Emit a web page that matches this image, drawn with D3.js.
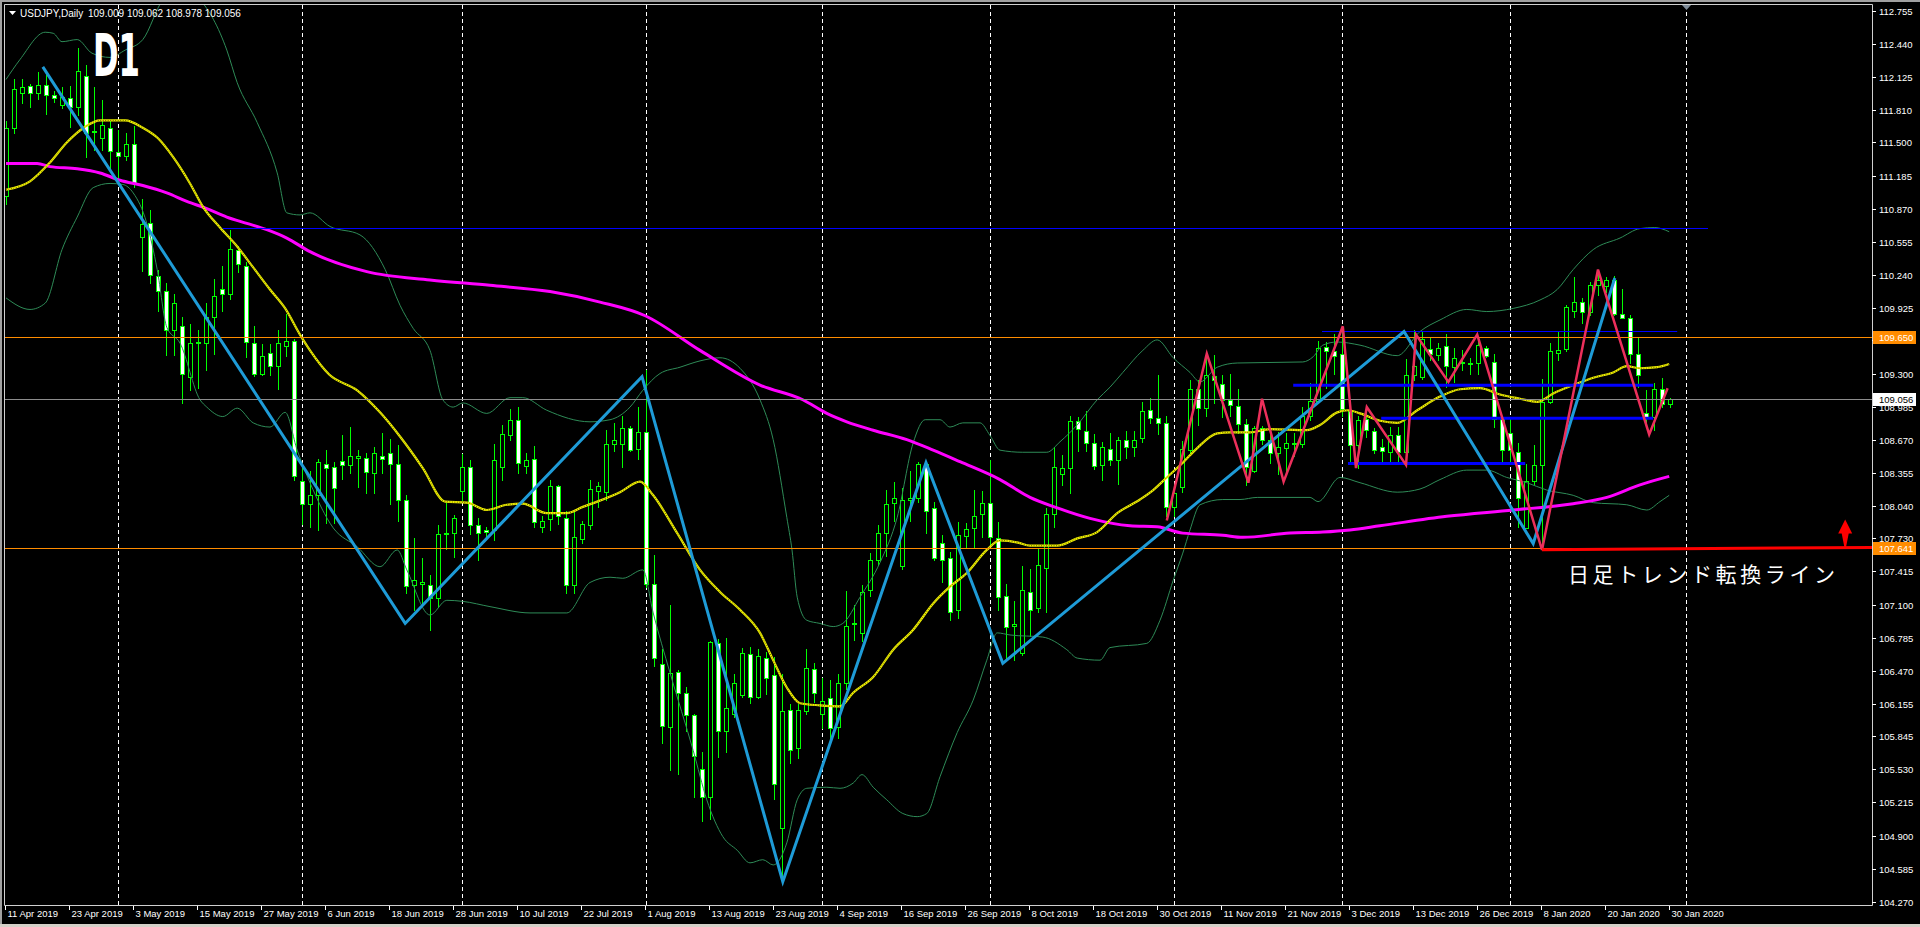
<!DOCTYPE html>
<html><head><meta charset="utf-8">
<script src="https://cdn.jsdelivr.net/npm/d3@7"></script>
<style>html,body{margin:0;padding:0;background:#000;overflow:hidden}</style>
</head><body>
<svg id="c" width="1920" height="927"></svg>
<script>
// ---------------- DATA ----------------
const symbolName = "USDJPY,Daily";
const firstDate = "2019-04-11";
const holidays = ["2019-12-25", "2020-01-01"];

const openP = [
110.99,111.64,111.97,112.04,111.97,112.05,111.95,111.86,111.92,111.84,
112.13,111.60,111.54,111.64,111.41,111.37,111.49,110.60,110.73,110.23,
110.09,109.71,109.75,109.27,109.59,109.59,109.84,110.10,110.06,110.48,
110.32,109.59,109.30,109.50,109.37,109.56,109.61,108.28,108.06,108.14,
108.44,108.41,108.47,108.43,108.50,108.50,108.35,108.51,108.54,108.44,
108.10,107.29,107.30,107.29,107.16,107.77,107.78,108.18,108.41,107.86,
107.81,107.81,108.41,108.71,108.86,108.42,108.49,107.84,107.91,108.23,
107.92,107.29,107.72,107.86,108.18,108.17,108.63,108.63,108.78,108.58,
108.74,107.30,106.53,105.93,106.46,106.26,106.05,105.53,105.27,106.73,
105.90,106.06,106.24,106.63,106.22,106.59,106.43,104.97,106.10,105.73,
106.09,106.49,106.06,106.21,105.93,106.35,106.91,106.83,107.24,107.52,
107.78,108.07,107.47,108.10,108.11,108.44,108.02,107.69,107.54,107.05,
107.75,107.83,107.96,108.07,107.73,107.18,106.90,106.64,107.22,107.07,
107.45,107.96,108.34,108.40,108.85,108.75,108.64,108.43,108.58,108.48,
108.67,108.60,108.69,108.95,108.88,108.83,108.03,108.22,108.57,109.15,
108.97,109.28,109.20,109.05,108.99,108.82,108.37,108.78,108.67,108.54,
108.59,108.63,108.63,108.90,109.04,109.55,109.51,109.49,108.94,108.62,
108.87,108.75,108.60,108.55,108.71,108.55,109.29,109.27,109.53,109.48,
109.56,109.36,109.40,109.40,109.40,109.54,109.41,108.87,108.73,108.55,
107.83,108.28,108.43,109.03,109.50,109.53,109.90,109.98,109.89,110.14,
110.13,110.19,109.87,109.83,109.49,108.92,108.89,109.15,109.009];

const highP = [
111.70,112.10,112.10,112.06,112.17,112.14,111.99,112.03,112.04,112.40,
112.24,112.03,111.90,111.70,111.62,111.59,111.66,110.96,110.86,110.29,
110.16,110.06,109.84,109.77,109.71,109.97,110.20,110.32,110.67,110.51,
110.36,109.75,109.58,109.58,109.71,109.87,109.63,108.43,108.37,108.49,
108.57,108.46,108.71,108.79,108.57,108.54,108.60,108.73,108.68,108.62,
108.14,107.73,107.54,107.38,107.86,108.07,107.95,108.53,108.48,107.92,
107.84,108.63,108.81,108.96,108.98,108.54,108.61,107.94,108.29,108.24,
107.99,107.98,107.90,108.29,108.27,108.76,108.83,108.90,108.80,108.98,
109.33,107.57,106.68,107.10,106.48,106.31,106.06,105.70,106.75,106.77,
106.78,106.44,106.69,106.70,106.68,106.65,106.60,106.44,106.15,106.15,
106.68,106.54,106.40,106.38,106.44,107.23,107.10,107.29,107.59,107.86,
108.19,108.27,108.21,108.37,108.46,108.47,108.08,107.76,107.60,107.89,
107.88,108.19,108.18,108.48,107.89,107.30,107.13,107.47,107.44,107.63,
108.02,108.60,108.52,108.90,108.89,108.94,108.72,108.65,108.73,108.70,
108.75,108.75,109.03,109.07,109.29,108.90,108.22,108.66,109.24,109.24,
109.49,109.48,109.29,109.30,109.15,108.87,108.80,108.80,108.74,108.74,
108.73,108.73,108.98,109.21,109.61,109.60,109.68,109.73,108.97,108.90,
108.96,108.78,108.68,108.79,108.79,109.44,109.71,109.70,109.64,109.59,
109.68,109.54,109.52,109.45,109.66,109.56,109.49,108.89,108.87,108.64,
108.44,108.62,109.25,109.59,109.70,109.95,110.22,110.02,110.17,110.28,
110.22,110.23,110.10,109.86,109.64,109.14,109.21,109.26,109.062];

const lowP = [
110.91,111.59,111.88,111.84,111.91,111.77,111.89,111.83,111.65,111.76,
111.36,111.43,111.43,111.25,111.14,111.33,111.08,110.28,110.16,109.90,
109.48,109.48,109.02,109.14,109.16,109.33,109.49,109.90,110.01,110.27,
109.46,109.28,109.29,109.29,109.15,109.47,108.29,107.87,107.84,107.81,
107.88,107.88,108.30,108.35,108.22,108.16,108.16,108.35,108.06,107.90,
107.21,107.05,107.09,106.86,107.08,107.63,107.55,108.10,107.77,107.52,
107.73,107.71,108.29,108.67,108.35,108.35,107.84,107.79,107.81,107.87,
107.21,107.21,107.69,107.82,108.03,108.10,108.56,108.41,108.56,108.49,
107.27,106.51,105.78,105.52,105.49,105.90,105.27,105.04,105.06,105.65,
105.70,106.03,106.22,106.16,106.21,106.25,105.25,104.44,105.59,105.64,
106.06,106.17,105.92,105.78,105.83,106.30,106.76,106.75,107.18,107.48,
107.56,107.90,107.44,107.90,108.08,107.78,107.52,107.31,106.95,106.97,
107.65,107.65,107.74,107.67,107.05,106.57,106.57,106.62,106.80,107.03,
107.03,107.84,108.24,108.16,108.56,108.56,108.39,108.29,108.43,108.25,
108.50,108.51,108.65,108.83,108.72,107.94,107.94,108.17,108.54,108.81,
108.90,109.02,108.89,108.90,108.73,108.24,108.36,108.63,108.45,108.34,
108.33,108.51,108.60,108.86,109.03,109.16,109.30,108.90,108.44,108.40,
108.70,108.54,108.44,108.46,108.47,108.44,109.24,109.25,109.43,109.43,
109.17,109.22,109.33,109.30,109.30,109.46,108.79,108.47,108.46,107.84,
107.83,108.25,107.65,109.02,109.43,109.51,109.84,109.78,109.86,110.05,
110.08,109.86,109.83,109.40,109.17,108.82,108.76,108.98,108.978];

const closeP = [
111.64,112.01,112.03,111.97,112.05,111.95,111.92,111.93,111.84,112.18,
111.59,111.61,111.67,111.42,111.37,111.49,111.11,110.72,110.24,110.09,
109.71,109.97,109.30,109.59,109.60,109.84,110.04,110.06,110.49,110.34,
109.60,109.30,109.47,109.37,109.59,109.61,108.32,108.06,108.14,108.46,
108.40,108.21,108.43,108.51,108.51,108.36,108.54,108.49,108.44,108.10,
107.28,107.33,107.31,107.16,107.77,107.78,107.92,108.41,107.86,107.78,
107.79,108.48,108.72,108.86,108.45,108.48,107.89,107.90,108.23,107.94,
107.29,107.74,107.87,108.20,108.23,108.63,108.67,108.78,108.57,108.74,
107.30,106.59,105.94,106.45,106.26,106.05,105.66,105.27,106.74,105.90,
106.11,106.35,106.64,106.22,106.61,106.40,105.39,106.09,105.71,106.10,
106.50,106.26,106.18,105.92,106.35,106.90,106.92,107.22,107.52,107.78,
108.06,108.11,108.10,108.11,108.44,107.99,107.54,107.52,107.03,107.76,
107.82,107.94,108.07,107.74,107.17,106.89,106.91,107.24,107.05,107.48,
107.96,108.41,108.40,108.85,108.77,108.64,108.42,108.60,108.48,108.67,
108.60,108.67,108.94,108.88,108.83,108.03,108.16,108.58,109.15,108.97,
109.29,109.24,109.05,109.00,108.82,108.41,108.78,108.67,108.54,108.60,
108.64,108.64,108.90,109.04,109.54,109.51,109.47,108.96,108.62,108.86,
108.76,108.57,108.56,108.71,108.55,109.29,109.37,109.63,109.49,109.54,
109.37,109.45,109.41,109.39,109.57,109.47,108.87,108.57,108.57,108.11,
108.28,108.43,109.03,109.51,109.52,109.93,109.98,109.89,110.14,110.19,
110.19,109.87,109.83,109.49,109.29,108.89,109.15,109.01,109.056];

const priceTicks = [112.755,112.440,112.125,111.810,111.500,111.185,110.870,110.555,110.240,109.925,109.615,109.300,108.985,108.670,108.355,108.040,107.730,107.415,107.100,106.785,106.470,106.155,105.845,105.530,105.215,104.900,104.585,104.270];

// indicator lines: [bar index, price]
const maYellow = [[0,111.05],[3,111.13],[5.5,111.31],[7.6,111.50],[9.9,111.65],[11.75,111.71],[14.9,111.71],[17.1,111.64],[19,111.54],[20.9,111.36],[23,111.11],[24.6,110.89],[26.75,110.69],[28.9,110.51],[30.9,110.31],[33,110.10],[34.9,109.92],[36.75,109.67],[38,109.52],[40.4,109.29],[43.9,109.14],[46.75,108.93],[49.25,108.70],[52.1,108.40],[54.9,108.08],[57.6,108.07],[60.1,108.00],[62.6,108.05],[64.6,108.06],[67.6,107.97],[70.1,107.97],[72.1,108.03],[73.9,108.08],[76.75,108.17],[79.25,108.27],[80.9,108.14],[83.9,107.78],[86.75,107.43],[89.25,107.22],[91.75,107.05],[94.25,106.83],[95.9,106.57],[97.6,106.31],[99.25,106.16],[101.75,106.14],[104.25,106.13],[105.9,106.26],[108.4,106.41],[110.9,106.67],[113.4,106.86],[115.9,107.11],[118,107.27],[120.1,107.40],[122.6,107.62],[124.25,107.71],[126.5,107.69],[128,107.66],[131.4,107.66],[133.9,107.73],[136.4,107.79],[138.9,107.97],[141.75,108.10],[143.4,108.19],[145.1,108.31],[147.1,108.45],[148.9,108.59],[151.4,108.73],[153,108.74],[155.5,108.74],[158,108.77],[162.6,108.76],[164.25,108.81],[166.4,108.93],[167.75,108.95],[169.25,108.92],[171.75,108.85],[173.9,108.83],[176.4,108.95],[179.25,109.08],[181.75,109.15],[184.25,109.16],[186.75,109.10],[189.25,109.06],[191.4,109.03],[193.4,109.11],[195.9,109.19],[198.4,109.26],[200.9,109.31],[202.6,109.37],[204.25,109.35],[206.4,109.36],[207.9,109.39]];

const maMagenta = [[0,111.30],[3.9,111.30],[5.5,111.27],[8.9,111.25],[11.75,111.21],[14.25,111.14],[17.1,111.09],[20.1,111.02],[22.6,110.94],[25.1,110.87],[27.6,110.79],[30.1,110.73],[32.6,110.67],[35.1,110.59],[38,110.46],[45.1,110.27],[53,110.19],[60.5,110.14],[68,110.08],[74.25,109.98],[79.9,109.85],[86.75,109.52],[94.25,109.19],[99.6,109.05],[102.6,108.92],[105.1,108.84],[108.4,108.76],[112.6,108.67],[115.9,108.57],[119.25,108.46],[124.25,108.29],[128,108.12],[131.4,108.02],[135.5,107.92],[140.5,107.85],[143.9,107.84],[147.1,107.78],[152.1,107.76],[154.6,107.74],[160.5,107.78],[164.6,107.79],[168,107.81],[171.75,107.85],[180.1,107.94],[188.4,108.00],[195.9,108.06],[200.1,108.12],[204.25,108.24],[207.9,108.32]];

const bandUpper = [[0,112.10],[1.75,112.29],[4.9,112.55],[5.9,112.54],[7,112.46],[8.9,112.48],[10.75,112.35],[13,112.31],[14.9,112.38],[17.1,112.48],[19.6,112.86],[21.75,112.97],[24.25,112.86],[27.6,112.38],[28.9,112.07],[31.4,111.69],[33.9,111.21],[35.1,110.83],[36.75,110.81],[38,110.83],[40.5,110.70],[44.25,110.62],[47.4,110.29],[49.25,109.95],[50.9,109.73],[53,109.52],[54.6,109.05],[55.9,108.98],[57.1,109.02],[60.1,108.92],[63,109.07],[64.6,109.07],[67.6,108.95],[73,108.84],[75.5,108.86],[78,108.98],[79.6,109.14],[81.75,109.30],[84.25,109.36],[86.75,109.42],[89.25,109.45],[91.75,109.35],[94.25,109.05],[95.9,108.67],[97.6,107.93],[98.25,107.62],[98.9,107.17],[100.1,106.95],[101.75,106.92],[103.4,106.89],[104.6,106.92],[106.75,107.17],[109.25,107.50],[111.4,107.93],[113.4,108.64],[114.9,108.86],[116.75,108.86],[118,108.79],[119.6,108.83],[121.75,108.83],[123,108.71],[124.25,108.57],[127.1,108.55],[130.1,108.55],[131.75,108.65],[133.9,108.81],[136.4,109.05],[138,109.17],[139.6,109.31],[142.1,109.52],[143.9,109.62],[145.9,109.45],[148,109.31],[149.25,109.22],[151.4,109.36],[153.9,109.40],[162.1,109.41],[163.4,109.46],[164.6,109.57],[166.4,109.60],[169.25,109.57],[173.9,109.47],[176.75,109.70],[179.25,109.81],[182.6,109.91],[185.1,109.89],[188.4,109.92],[191.75,110.00],[193.9,110.10],[195.9,110.29],[198.4,110.48],[201.75,110.59],[204.25,110.68],[206.1,110.69],[207.9,110.65]];

const bandLower = [[0,110.02],[3,109.91],[4.9,109.97],[7,110.48],[8.9,110.79],[10.9,111.07],[13,111.11],[14.6,111.10],[15.9,111.02],[17.6,110.73],[18.9,110.29],[20.1,109.74],[21.75,109.59],[24.25,109.05],[25.1,108.98],[27.1,108.89],[28.9,108.97],[30.9,108.83],[33,108.79],[34.9,108.93],[36.4,108.57],[38,108.26],[40.9,107.83],[43.9,107.65],[46.75,107.46],[48.9,107.62],[50.1,107.43],[53,107.00],[55.1,107.14],[57.1,107.13],[60.5,107.08],[65.5,107.02],[70.1,107.02],[73,107.31],[75.5,107.36],[77.1,107.35],[79.6,107.43],[80.9,107.02],[83,106.45],[85.9,105.71],[87.6,105.24],[89.6,104.89],[91.4,104.76],[93,104.64],[94.6,104.67],[95.9,104.62],[97.6,104.83],[98.9,105.24],[100.1,105.35],[102.6,105.36],[104.25,105.35],[105.9,105.40],[107,105.48],[108.4,105.36],[110.1,105.24],[112.1,105.11],[113.9,105.08],[115.1,105.11],[116.75,105.46],[118.9,105.88],[120.9,106.19],[122.6,106.57],[123.9,106.83],[125.5,106.81],[129.6,106.79],[132.6,106.67],[133.9,106.59],[136.75,106.57],[138,106.69],[142.6,106.73],[144.25,106.95],[145.9,107.33],[147.1,107.59],[148,107.81],[149.25,108.05],[152.1,108.10],[154.25,108.10],[156.4,108.12],[163,108.12],[164,108.08],[166.75,108.31],[169.25,108.26],[173.9,108.17],[176.75,108.20],[179.25,108.29],[182.6,108.38],[185.1,108.38],[187.6,108.31],[190.1,108.26],[192.6,108.19],[195.9,108.14],[198.4,108.07],[202.6,108.05],[205.1,108.00],[206.75,108.08],[207.9,108.14]];

// drawn objects: [bar index, price]
const zigzagBlue = [[4.6,112.22],[49.9,106.92],[79.5,109.27],[97.1,104.46],[115,108.45],[124.6,106.54],[174.75,109.70],[190.9,107.68],[201.1,110.21]];
const zigzagRed = [[145.1,107.90],[150.1,109.49],[155.3,108.26],[157,109.06],[159.7,108.27],[167.1,109.75],[168.75,108.40],[170.1,108.98],[175,108.43],[176.25,109.67],[180.3,109.22],[183.9,109.67],[192,107.62],[199,110.29],[205.4,108.72],[207.7,109.16]];
const thinBlueLevels = [{from:27.1,to:212.75,price:110.683},{from:164.5,to:208.9,price:109.705}];
const thickBlueLevels = [{from:160.9,to:205.9,price:109.188},{from:171.9,to:205.9,price:108.873},{from:167.75,to:189.9,price:108.444}];
const orangeLevels = [109.650, 107.641];
const trendRed = [[192,107.622],[233.3,107.644]];
const arrowRed = {bar:229.9, tip:107.91, base:107.645};
const noteText = {text:"日足トレンド転換ライン", bar:195.25, price:107.40};

// ---------------- CHART ----------------
const svg = d3.select('#c');
const nBars = closeP.length;
const plotL = 4.5, plotT = 4.5, plotR = 1872.5, plotB = 905.5;
const x = d3.scaleLinear().domain([0,233]).range([6,1870]);
const y = d3.scaleLinear().domain([104.270,112.755]).range([901.7,10.7]);

// calendar of trading bars
const keyFmt = d3.timeFormat('%Y-%m-%d');
const dates = [];
{ let d = d3.timeParse('%Y-%m-%d')(firstDate);
  while (dates.length < 240) { const wd = d.getDay();
    if (wd !== 0 && wd !== 6 && !holidays.includes(keyFmt(d))) dates.push(new Date(d));
    d = d3.timeDay.offset(d, 1); } }

svg.append('rect').attr('width',1920).attr('height',927).attr('fill','#000');
// window edges
svg.append('rect').attr('x',0).attr('y',0).attr('width',1920).attr('height',2).attr('fill','#a0a0a0');
svg.append('rect').attr('x',0).attr('y',0).attr('width',2).attr('height',927).attr('fill','#a0a0a0');
svg.append('rect').attr('x',0).attr('y',924).attr('width',1920).attr('height',3).attr('fill','#d4d0c8');

const defs = svg.append('defs');
defs.append('clipPath').attr('id','clip').append('rect')
  .attr('x',5).attr('y',5).attr('width',1867).attr('height',900);
const plot = svg.append('g').attr('clip-path','url(#clip)');

// month separators
const seps = [];
for (let i = 1; i < dates.length; i++) {
  if (dates[i].getMonth() !== dates[i-1].getMonth()) { seps.push(i); if (i >= nBars) break; }
}
plot.selectAll('line.sep').data(seps).enter().append('line')
  .attr('x1',d=>Math.round(x(d))+0.5).attr('x2',d=>Math.round(x(d))+0.5)
  .attr('y1',5).attr('y2',905).attr('stroke','#fff').attr('stroke-width',1)
  .attr('stroke-dasharray','4,3');

// candles
const bars = d3.range(nBars);
const cg = plot.append('g').attr('shape-rendering','crispEdges');
bars.forEach(i => {
  const cx = Math.round(x(i));
  const o = openP[i], c = closeP[i];
  cg.append('line').attr('x1',cx+0.5).attr('x2',cx+0.5)
    .attr('y1',Math.round(y(highP[i]))).attr('y2',Math.round(y(lowP[i]))+1)
    .attr('stroke','#00ff00').attr('stroke-width',1);
  const yt = Math.round(y(Math.max(o,c))), yb = Math.round(y(Math.min(o,c)));
  if (yb - yt < 2) {
    cg.append('line').attr('x1',cx-2).attr('x2',cx+3).attr('y1',yt+0.5).attr('y2',yt+0.5)
      .attr('stroke','#00ff00').attr('stroke-width',1);
    if (yb - yt >= 1) cg.append('line').attr('x1',cx-2).attr('x2',cx+3).attr('y1',yb+0.5).attr('y2',yb+0.5)
      .attr('stroke','#00ff00').attr('stroke-width',1);
  } else {
    cg.append('rect').attr('x',cx-1.5).attr('y',yt+0.5).attr('width',4).attr('height',yb-yt)
      .attr('fill', c < o ? '#ffffff' : '#000000').attr('stroke','#00ff00').attr('stroke-width',1);
  }
});

// indicators
const lineGen = d3.line().x(d=>x(d[0])).y(d=>y(d[1])).curve(d3.curveMonotoneX);
[bandUpper, bandLower].forEach(b => plot.append('path').attr('d',lineGen(b))
  .attr('fill','none').attr('stroke','#2e8b57').attr('stroke-width',1));
plot.append('path').attr('d',lineGen(maMagenta)).attr('fill','none')
  .attr('stroke','#ff00ff').attr('stroke-width',3);
plot.append('path').attr('d',lineGen(maYellow)).attr('fill','none')
  .attr('stroke','#f0f000').attr('stroke-width',2.2);
plot.append('path').attr('d',lineGen(maYellow)).attr('fill','none')
  .attr('stroke','#5a5a00').attr('stroke-width',0.9).attr('stroke-dasharray','1,1.5');

// objects
const og = plot.append('g');
thinBlueLevels.forEach(l => og.append('line').attr('x1',x(l.from)).attr('x2',x(l.to))
  .attr('y1',Math.round(y(l.price))+0.5).attr('y2',Math.round(y(l.price))+0.5)
  .attr('stroke','#0000ff').attr('stroke-width',1));
orangeLevels.forEach(p => og.append('line').attr('x1',5).attr('x2',1872)
  .attr('y1',Math.round(y(p))+0.5).attr('y2',Math.round(y(p))+0.5)
  .attr('stroke','#ff8c00').attr('stroke-width',1));
const lastClose = closeP[nBars-1];
og.append('line').attr('x1',5).attr('x2',1872)
  .attr('y1',Math.round(y(lastClose))+0.5).attr('y2',Math.round(y(lastClose))+0.5)
  .attr('stroke','#8c8c8c').attr('stroke-width',1);
thickBlueLevels.forEach(l => og.append('line').attr('x1',x(l.from)).attr('x2',x(l.to))
  .attr('y1',y(l.price)).attr('y2',y(l.price))
  .attr('stroke','#0000ff').attr('stroke-width',3));
const straight = d3.line().x(d=>x(d[0])).y(d=>y(d[1]));
og.append('path').attr('d',straight(zigzagBlue)).attr('fill','none')
  .attr('stroke','#1e9bd7').attr('stroke-width',3).attr('stroke-linejoin','miter');
og.append('path').attr('d',straight(zigzagRed)).attr('fill','none')
  .attr('stroke','#ec2f5b').attr('stroke-width',2.5).attr('stroke-linejoin','miter');
og.append('path').attr('d',straight(trendRed)).attr('fill','none')
  .attr('stroke','#ff0000').attr('stroke-width',3);
{ const ax = x(arrowRed.bar), yt = y(arrowRed.tip), yb = y(arrowRed.base);
  const hh = 14;
  og.append('path').attr('d',
    `M${ax},${yt} L${ax+7},${yt+hh} L${ax+3.5},${yt+hh} L${ax+0.8},${yb} L${ax-0.8},${yb} L${ax-3.5},${yt+hh} L${ax-7},${yt+hh} Z`)
    .attr('fill','#ff0000'); }
svg.append('text').attr('x',x(noteText.bar)).attr('y',y(noteText.price)+9)
  .attr('font-family','"Noto Sans CJK JP", sans-serif').attr('font-size',21)
  .attr('fill','#ffffff').attr('textLength',267).attr('lengthAdjust','spacing')
  .text(noteText.text);

// chart-shift marker
{ const sx = Math.round(x(seps[seps.length-1]));
  svg.append('path').attr('d',`M${sx-4},5 L${sx+5},5 L${sx+0.5},10 Z`).attr('fill','#7f8c99'); }

// frame
const fr = svg.append('g').attr('stroke','#d0d0d0').attr('stroke-width',1);
fr.append('line').attr('x1',plotL).attr('x2',plotL).attr('y1',plotT).attr('y2',plotB);
fr.append('line').attr('x1',plotL).attr('x2',plotR).attr('y1',plotT).attr('y2',plotT);
fr.append('line').attr('x1',plotR).attr('x2',plotR).attr('y1',plotT).attr('y2',plotB);
fr.append('line').attr('x1',plotL).attr('x2',plotR).attr('y1',plotB).attr('y2',plotB);

// y axis
const ya = svg.append('g').attr('font-family','"Liberation Sans", Arial, sans-serif').attr('font-size',9.5).attr('fill','#fff');
priceTicks.forEach(t => {
  const yy = Math.round(y(t)) + 0.5;
  ya.append('line').attr('x1',1872).attr('x2',1876).attr('y1',yy).attr('y2',yy).attr('stroke','#fff');
  ya.append('text').attr('x',1879).attr('y',yy+3.5).text(t.toFixed(3));
});
function priceBox(p, bg, fg) {
  const yy = Math.round(y(p));
  svg.append('rect').attr('x',1873).attr('y',yy-6).attr('width',43).attr('height',13).attr('fill',bg);
  svg.append('text').attr('x',1879).attr('y',yy+4)
    .attr('font-family','"Liberation Sans", Arial, sans-serif').attr('font-size',9.5)
    .attr('fill',fg).text(p.toFixed(3));
}
orangeLevels.forEach(p => priceBox(p, '#ff8c00', '#ffffff'));
priceBox(lastClose, '#ffffff', '#000000');

// x axis
const xa = svg.append('g').attr('font-family','"Liberation Sans", Arial, sans-serif').attr('font-size',9.5).attr('fill','#fff');
const dfmt = d3.timeFormat('%-d %b %Y');
for (let i = 0; i < nBars; i += 8) {
  const xx = Math.round(x(i)) - 0.5;
  xa.append('line').attr('x1',xx).attr('x2',xx).attr('y1',906).attr('y2',910).attr('stroke','#fff');
  xa.append('text').attr('x',xx+2).attr('y',917).text(dfmt(dates[i]));
}

// header
svg.append('path').attr('d','M9,11 L16,11 L12.5,15 Z').attr('fill','#fff');
svg.append('text').attr('x',20).attr('y',16.5).attr('font-family','"Liberation Sans", Arial, sans-serif')
  .attr('font-size',10).attr('fill','#fff').text(symbolName);
svg.append('text').attr('x',88).attr('y',16.5).attr('font-family','"Liberation Sans", Arial, sans-serif')
  .attr('font-size',10).attr('fill','#fff')
  .text([openP[nBars-1],highP[nBars-1],lowP[nBars-1],closeP[nBars-1]].map(v=>v.toFixed(3)).join(' '));
svg.append('text').attr('x',93).attr('y',76).attr('font-family','"DejaVu Sans", sans-serif')
  .attr('font-weight','bold').attr('font-size',59).attr('fill','#fff')
  .attr('textLength',47).attr('lengthAdjust','spacingAndGlyphs').text('D1');
</script>
</body></html>
